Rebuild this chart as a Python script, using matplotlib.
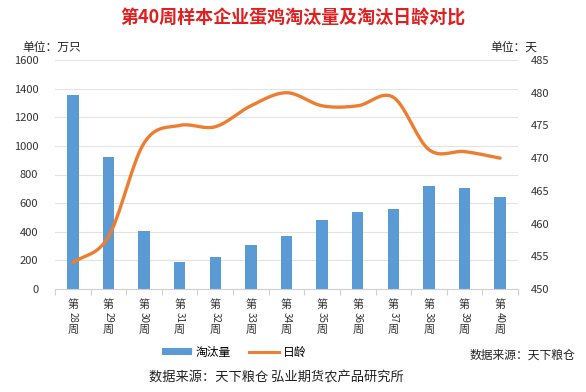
import numpy as np
import matplotlib.pyplot as plt
from matplotlib.lines import Line2D
from matplotlib.patches import Patch

plt.rcParams['font.family'] = ['Noto Sans CJK SC', 'DejaVu Sans']

weeks = [28, 29, 30, 31, 32, 33, 34, 35, 36, 37, 38, 39, 40]
cull_volume = [1355, 920, 405, 190, 222, 310, 372, 480, 535, 562, 717, 703, 642]
cull_age = [454, 458, 472.3, 475, 474.8, 478, 480, 478, 478, 479.3, 471.3, 471, 470]

BLUE = '#5b9bd5'
ORANGE = '#ed7d31'


def smooth(xs, ys, n=20):
    # Catmull-Rom curve through the points, like Excel's smoothed line
    xs = np.asarray(xs, float)
    ys = np.asarray(ys, float)
    px = np.concatenate([[2 * xs[0] - xs[1]], xs, [2 * xs[-1] - xs[-2]]])
    py = np.concatenate([[2 * ys[0] - ys[1]], ys, [2 * ys[-1] - ys[-2]]])
    ox, oy = [], []
    for i in range(1, len(px) - 2):
        t = np.linspace(0, 1, n, endpoint=False)
        for p, out in ((px, ox), (py, oy)):
            p0, p1, p2, p3 = p[i - 1], p[i], p[i + 1], p[i + 2]
            out.extend(0.5 * (2 * p1 + (-p0 + p2) * t
                              + (2 * p0 - 5 * p1 + 4 * p2 - p3) * t ** 2
                              + (-p0 + 3 * p1 - 3 * p2 + p3) * t ** 3))
    ox.append(xs[-1])
    oy.append(ys[-1])
    return np.array(ox), np.array(oy)


fig = plt.figure(figsize=(5.86, 3.92), dpi=100)
ax = fig.add_axes([55 / 586, 1 - 289 / 392, 463 / 586, 229 / 392])
x = np.arange(len(weeks))

ax.bar(x, cull_volume, width=0.32, color=BLUE, zorder=2)
ax.set_xlim(-0.5, len(weeks) - 0.5)
ax.set_ylim(0, 1600)
ax.set_yticks(range(0, 1601, 200))
ax.grid(axis='y', color='#e3e3e3', linewidth=0.8, zorder=0)
for s in ['top', 'right', 'left']:
    ax.spines[s].set_visible(False)
ax.spines['bottom'].set_color('#d0d0d0')
ax.tick_params(axis='y', length=0, labelsize=8, colors='#333333', pad=12)
ax.set_xticks(np.arange(-0.5, len(weeks), 1))
ax.set_xticklabels([])
ax.tick_params(axis='x', length=4, color='#d0d0d0', direction='out')

ax2 = ax.twinx()
sx, sy = smooth(x, cull_age)
ax2.plot(sx, sy, color=ORANGE, linewidth=2.4, solid_capstyle='round', zorder=3)
ax2.set_ylim(450, 485)
ax2.set_yticks(range(450, 486, 5))
for s in ax2.spines.values():
    s.set_visible(False)
ax2.tick_params(axis='y', length=0, labelsize=8, colors='#333333', pad=9)

# stacked category labels: 第 / rotated number / 周
tr = ax.get_xaxis_transform()
for xi, w in zip(x, weeks):
    ax.annotate('第', (xi, 0), xycoords=tr, xytext=(0, -11.5), textcoords='offset points',
                ha='center', va='center', fontsize=8, color='#333333')
    ax.annotate(str(w), (xi, 0), xycoords=tr, xytext=(0, -20.5), textcoords='offset points',
                ha='center', va='center', fontsize=7, color='#333333', rotation=-90)
    ax.annotate('周', (xi, 0), xycoords=tr, xytext=(0, -29.5), textcoords='offset points',
                ha='center', va='center', fontsize=8, color='#333333')

fig.text(0.5, 1 - 18 / 392, '第40周样本企业蛋鸡淘汰量及淘汰日龄对比', ha='center', va='center',
         fontsize=13, fontweight='bold', color='#e02020')
fig.text(22 / 586, 1 - 47 / 392, '单位：万只', ha='left', va='center', fontsize=8.5, color='#222222')
fig.text(490 / 586, 1 - 47 / 392, '单位：天', ha='left', va='center', fontsize=8.5, color='#222222')

handles = [Patch(facecolor=BLUE, edgecolor='none'),
           Line2D([0], [0], color=ORANGE, linewidth=2.2)]
fig.legend(handles, ['淘汰量', '日龄'], loc='center', bbox_to_anchor=(234 / 586, 1 - 352 / 392),
           ncol=2, frameon=False, fontsize=8.5, handlelength=2.6, handleheight=0.5,
           columnspacing=1.5, handletextpad=0.3)
fig.text(575 / 586, 1 - 355 / 392, '数据来源：天下粮仓', ha='right', va='center', fontsize=8.5,
         color='#222222')
fig.text(276 / 586, 1 - 378 / 392, '数据来源：天下粮仓 弘业期货农产品研究所', ha='center', va='center',
         fontsize=9.5, color='#222222')

fig.savefig('out.png', dpi=100)
